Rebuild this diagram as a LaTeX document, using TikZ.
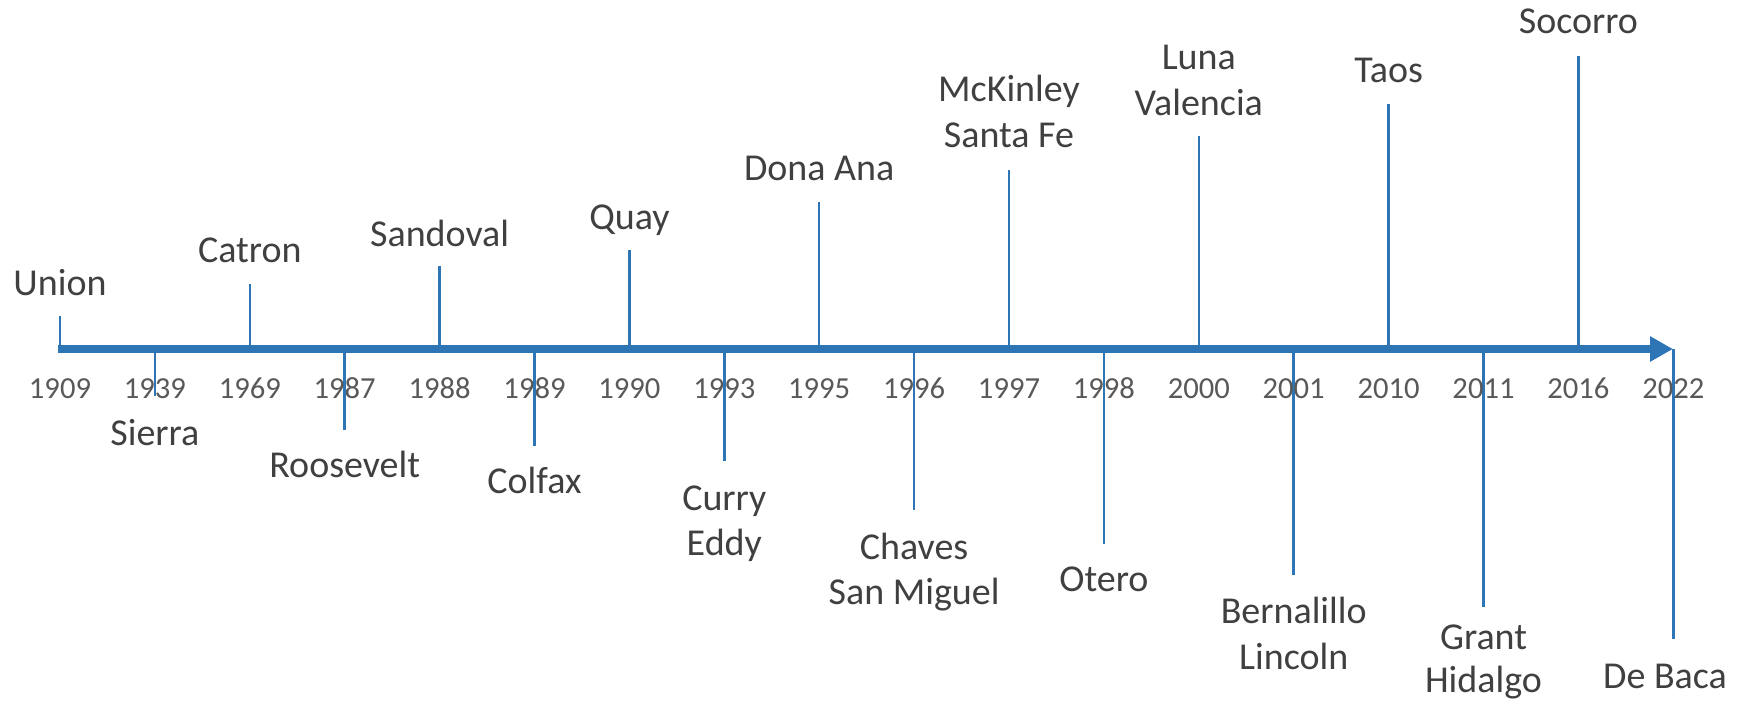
\documentclass[tikz,border=0pt]{standalone}
\usepackage{fontspec}
\setmainfont{Carlito}
\usetikzlibrary{arrows.meta}
\definecolor{tl}{HTML}{2E75B6}
\definecolor{lbl}{HTML}{404040}
\definecolor{yr}{HTML}{595959}
\begin{document}
\begin{tikzpicture}[x=0.5pt,y=-0.5pt,
  axisline/.style={draw=tl,line width=4pt,-{Triangle[length=11.5pt,width=12pt]}},
  tickline/.style={draw=tl,line width=1.25pt},
  yearlbl/.style={anchor=base,text=yr,font=\fontsize{15.3}{18}\selectfont,inner sep=0pt},
  cnty/.style={anchor=base,text=lbl,font=\fontsize{19}{23}\selectfont,inner sep=0pt}]
\useasboundingbox (0,0) rectangle (1741,706);
% axis
\coordinate (astart) at (58,349);
\coordinate (aend) at (1673,349);
\draw[axisline] (astart) -- (aend);
% ticks: year / x / end y
\foreach \yy/\xx/\ye in {1909/60/316,1939/154.9/396,1969/249.8/284,1987/344.7/430,
  1988/439.6/266,1989/534.5/446,1990/629.4/250,1993/724.3/461,1995/819.2/202,
  1996/914.1/510,1997/1009/170,1998/1103.9/544,2000/1198.8/136,2001/1293.7/575,
  2010/1388.6/104,2011/1483.5/607,2016/1578.4/56,2022/1673.3/639}{
  \coordinate (t\yy) at (\xx,349);
  \coordinate (e\yy) at (\xx,\ye);
  \draw[tickline] (t\yy) -- (e\yy);
  \node[yearlbl] (y\yy) at (\xx,398) {\yy};
}
% labels above
\node[cnty] (nUnion) at (60,295) {Union};
\node[cnty] (nCatron) at (249.8,262) {Catron};
\node[cnty] (nSandoval) at (439.6,246) {Sandoval};
\node[cnty] (nQuay) at (629.4,229) {Quay};
\node[cnty] (nDona) at (819.2,180) {Dona Ana};
\node[cnty] (nMcK) at (1009,102) {McKinley};
\node[cnty] (nSF) at (1009,148) {Santa Fe};
\node[cnty] (nLuna) at (1198.8,70) {Luna};
\node[cnty] (nVal) at (1198.8,116) {Valencia};
\node[cnty] (nTaos) at (1388.6,83) {Taos};
\node[cnty] (nSoc) at (1578.4,34) {Socorro};
% labels below
\node[cnty] (nSierra) at (154.9,445) {Sierra};
\node[cnty] (nRoos) at (344.7,477) {Roosevelt};
\node[cnty] (nColfax) at (534.5,493) {Colfax};
\node[cnty] (nCurry) at (724.3,510) {Curry};
\node[cnty] (nEddy) at (724.3,555) {Eddy};
\node[cnty] (nChaves) at (914.1,559) {Chaves};
\node[cnty] (nSM) at (914.1,604) {San Miguel};
\node[cnty] (nOtero) at (1103.9,591) {Otero};
\node[cnty] (nBern) at (1293.7,623) {Bernalillo};
\node[cnty] (nLinc) at (1293.7,669) {Lincoln};
\node[cnty] (nGrant) at (1483.5,649) {Grant};
\node[cnty] (nHid) at (1483.5,692) {Hidalgo};
\node[cnty] (nDeBaca) at (1665,688) {De Baca};
\end{tikzpicture}
\end{document}
